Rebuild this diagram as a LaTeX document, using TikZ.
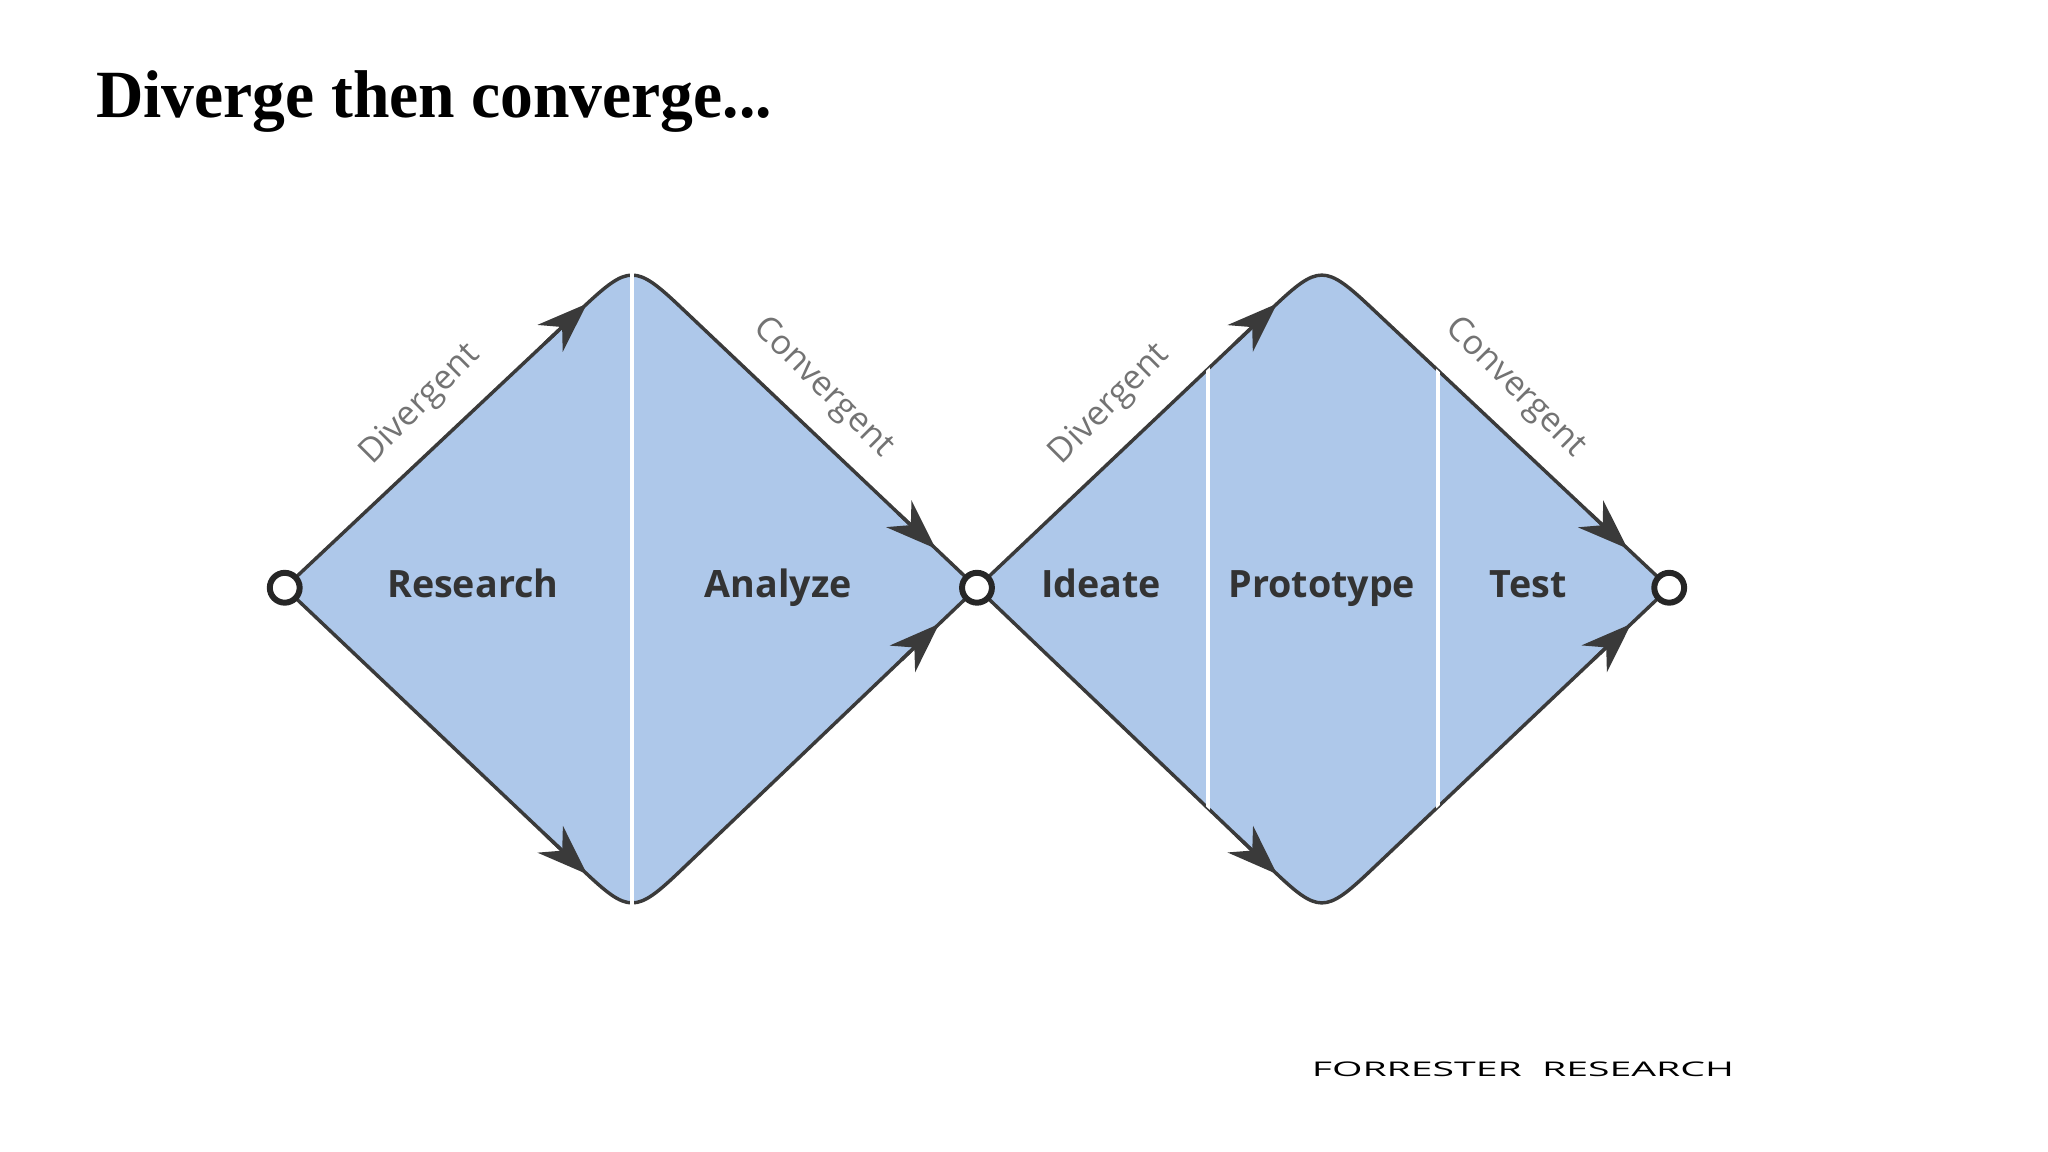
\documentclass[tikz,border=0pt]{standalone}
\usepackage{fontspec}
\setmainfont{Liberation Serif}
\newfontfamily\lab{Open Sans}
\usetikzlibrary{calc,arrows.meta}
\definecolor{dblue}{HTML}{AEC8EA}
\definecolor{edge}{HTML}{3A3A3A}
\tikzset{
  outline/.style={draw=edge,line width=0.75pt},
  tip/.style={draw=edge,line width=0.75pt,-{Stealth[length=11pt,width=8pt]}},
  lbl/.style={font=\lab\bfseries\fontsize{8.2}{10}\selectfont,text=black!80,text height=6pt,text depth=1.8pt},
  side/.style={font=\lab\fontsize{7.4}{9}\selectfont,text=black!55},
  dot/.style={circle,draw=black!85,line width=1.3pt,fill=white,minimum size=6.5pt,inner sep=0pt},
  sep/.style={white,line width=1pt}
}
\begin{document}
\begin{tikzpicture}[x=0.01cm,y=-0.01cm]
\useasboundingbox (0,0) rectangle (1568,882);
\node[anchor=west,inner sep=0pt,font=\bfseries\fontsize{14}{16}\selectfont] (title) at (73,78) {\scalebox{1.02}[1.05]{Diverge then converge...}};
\coordinate (L1) at (218,450); \coordinate (T1) at (484,200);
\coordinate (R1) at (748,450); \coordinate (B1) at (484,702);
\coordinate (L2) at (748,450); \coordinate (T2) at (1012,200);
\coordinate (R2) at (1278,450); \coordinate (B2) at (1012,702);
\foreach \i in {1,2}{
  \path[fill=dblue,outline] (L\i) -- ($(T\i)!0.14!(L\i)$) .. controls ($(T\i)!0.01!(L\i)$) and ($(T\i)!0.01!(R\i)$) .. ($(T\i)!0.14!(R\i)$)
    -- (R\i) -- ($(B\i)!0.14!(R\i)$) .. controls ($(B\i)!0.01!(R\i)$) and ($(B\i)!0.01!(L\i)$) .. ($(B\i)!0.14!(L\i)$) -- cycle;
}
\begin{scope}
\clip (L1) -- (T1) -- (R1) -- (B1) -- cycle;
\draw[sep] (484,200) -- (484,700);
\end{scope}
\begin{scope}
\clip (L2) -- (T2) -- (R2) -- (B2) -- cycle;
\draw[sep] (925,200) -- (925,700);
\draw[sep] (1101,200) -- (1101,700);
\end{scope}
\foreach \i in {1,2}{
  \draw[tip] ($(L\i)!0.75!(T\i)$) -- ($(L\i)!0.87!(T\i)$);
  \draw[tip] ($(L\i)!0.75!(B\i)$) -- ($(L\i)!0.87!(B\i)$);
  \draw[tip] ($(T\i)!0.77!(R\i)$) -- ($(T\i)!0.88!(R\i)$);
  \draw[tip] ($(B\i)!0.78!(R\i)$) -- ($(B\i)!0.89!(R\i)$);
}
\node[dot] (c1) at (L1) {};
\node[dot] (c2) at (R1) {};
\node[dot] (c3) at (R2) {};
\node[lbl] (research) at (362,450) {Research};
\node[lbl] (analyze) at (596,450) {Analyze};
\node[lbl] (ideate) at (843,450) {Ideate};
\node[lbl] (proto) at (1012,450) {Prototype};
\node[lbl] (test) at (1170,450) {Test};
\node[side,rotate=45] (d1) at (322,310) {Divergent};
\node[side,rotate=-45] (v1) at (630,297) {Convergent};
\node[side,rotate=45] (d2) at (850,310) {Divergent};
\node[side,rotate=-45] (v2) at (1160,297) {Convergent};
\node[font=\lab\fontsize{5.5}{6}\selectfont] (forr) at (1166,819) {\scalebox{1.55}[0.8]{FORRESTER\ \ RESEARCH}};
\end{tikzpicture}
\end{document}
